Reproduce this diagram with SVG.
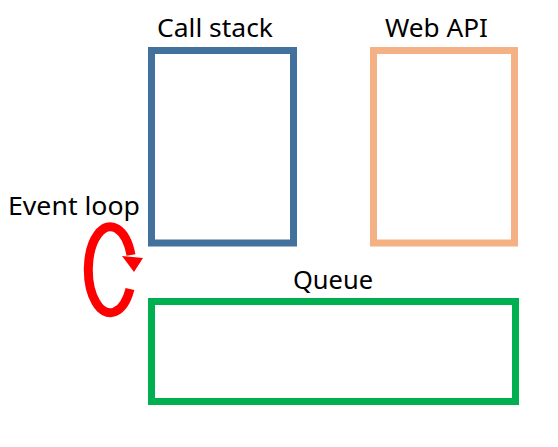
<svg xmlns="http://www.w3.org/2000/svg" width="558" height="447" viewBox="0 0 558 447">
<style>
text{font-family:"Noto Sans","Liberation Sans",sans-serif;font-size:25px;fill:#000}
.box{fill:none;stroke-width:7}
</style>
<rect width="558" height="447" fill="#fff"/>
<g id="callstack">
<rect class="box" x="151.5" y="50.5" width="142" height="192.5" stroke="#41719C"/>
<text x="157" y="37" textLength="116" lengthAdjust="spacingAndGlyphs">Call stack</text>
</g>
<g id="webapi">
<rect class="box" x="373.5" y="50.5" width="141" height="192.5" stroke="#F4B183"/>
<text x="385" y="37" textLength="103" lengthAdjust="spacingAndGlyphs">Web API</text>
</g>
<g id="queue">
<rect class="box" x="151.5" y="301.5" width="364" height="100" stroke="#00B050"/>
<text x="293" y="289" textLength="80" lengthAdjust="spacingAndGlyphs">Queue</text>
</g>
<g id="eventloop">
<text x="8" y="215" textLength="132" lengthAdjust="spacingAndGlyphs">Event loop</text>
</g>
<g id="connectors">
<path d="M 130 289 A 22 43 0 1 1 131 255" fill="none" stroke="#FF0000" stroke-width="9"/>
<polygon points="122,256 143,258 134,272" fill="#FF0000"/>
</g>
</svg>
